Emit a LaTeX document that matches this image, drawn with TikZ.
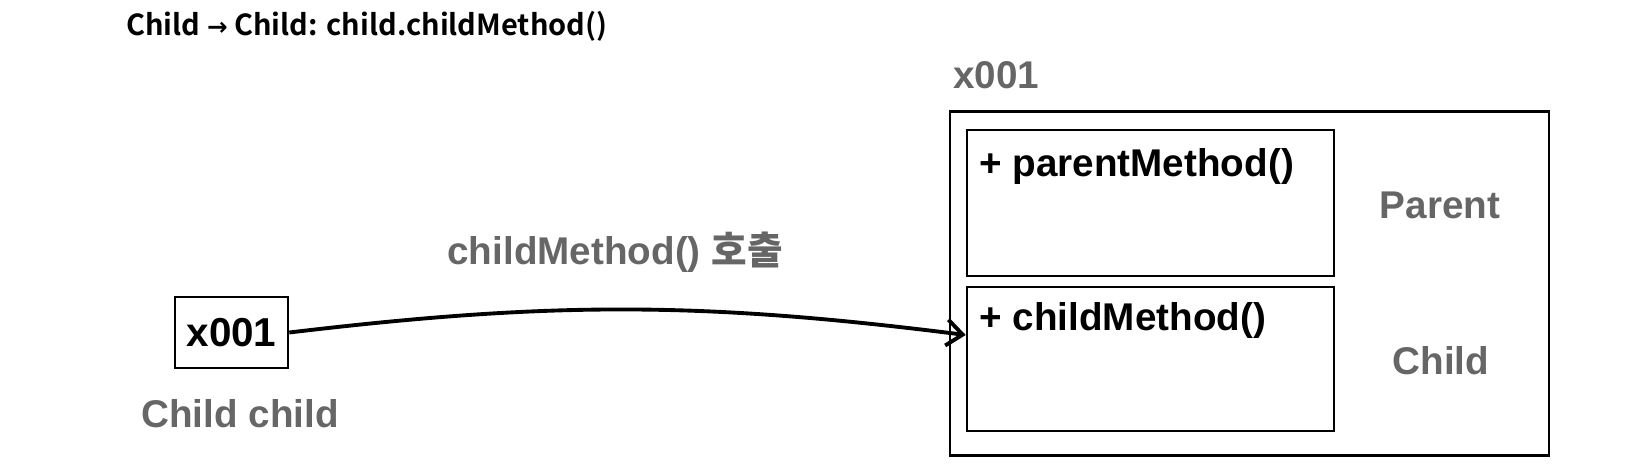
\documentclass[tikz,border=0pt]{standalone}
\usepackage{fontspec}
\setmainfont{Liberation Sans}
\newfontfamily\krbold{Noto Sans CJK KR Bold}
\newfontfamily\arrowfont{DejaVu Sans}
\usetikzlibrary{arrows.meta}
\definecolor{labelgray}{RGB}{102,102,102}
\tikzstyle{membox} = [rectangle, draw=black, line width=1.5pt, inner sep=0pt]
\tikzstyle{method} = [anchor=base west, inner sep=0pt, font=\bfseries\fontsize{22}{26}\selectfont, text=black]
\tikzstyle{tag} = [inner sep=0pt, font=\bfseries\fontsize{22}{26}\selectfont, text=labelgray]

\begin{document}
\begin{tikzpicture}[x=0.02cm,y=0.02cm]
\useasboundingbox (0,0) rectangle (1650,466);

\node (title) [anchor=base west, inner sep=0pt, font=\krbold\fontsize{16.5}{19}\selectfont] at (126,430) {Child {\arrowfont\bfseries\fontsize{14}{16}\selectfont →} Child: child.childMethod()};

% reference variable
\node (ptr) [membox, minimum width=2.26cm, minimum height=1.42cm, font=\bfseries\fontsize{23}{27}\selectfont] at (231.5,133.5) {x001};
\node (ptrname) [tag, anchor=base] at (240,38) {Child child};

% instance
\node (obj) [membox, minimum width=11.98cm, minimum height=6.88cm] at (1249.5,182.5) {};
\node (objaddr) [tag, anchor=base west] at (953,377) {x001};
\node (parentpart) [membox, minimum width=7.34cm, minimum height=2.92cm] at (1150.5,263) {};
\node (childpart) [membox, minimum width=7.34cm, minimum height=2.88cm] at (1150.5,107) {};
\node (parentmeth) [method] at (979,289) {+ parentMethod()};
\node (childmeth) [method] at (979,135) {+ childMethod()};
\node (parenttag) [tag, anchor=base] at (1440,247) {Parent};
\node (childtag) [tag, anchor=base] at (1441,91) {Child};

\node (calltext) [tag, anchor=base] at (615,201) {childMethod() {\krbold 호출}};

\draw[line width=2.2pt, -{Straight Barb[length=3.2mm,width=5.2mm]}] (ptr.east) to[bend left=7] ([yshift=0.48cm]childpart.west);

\end{tikzpicture}
\end{document}
